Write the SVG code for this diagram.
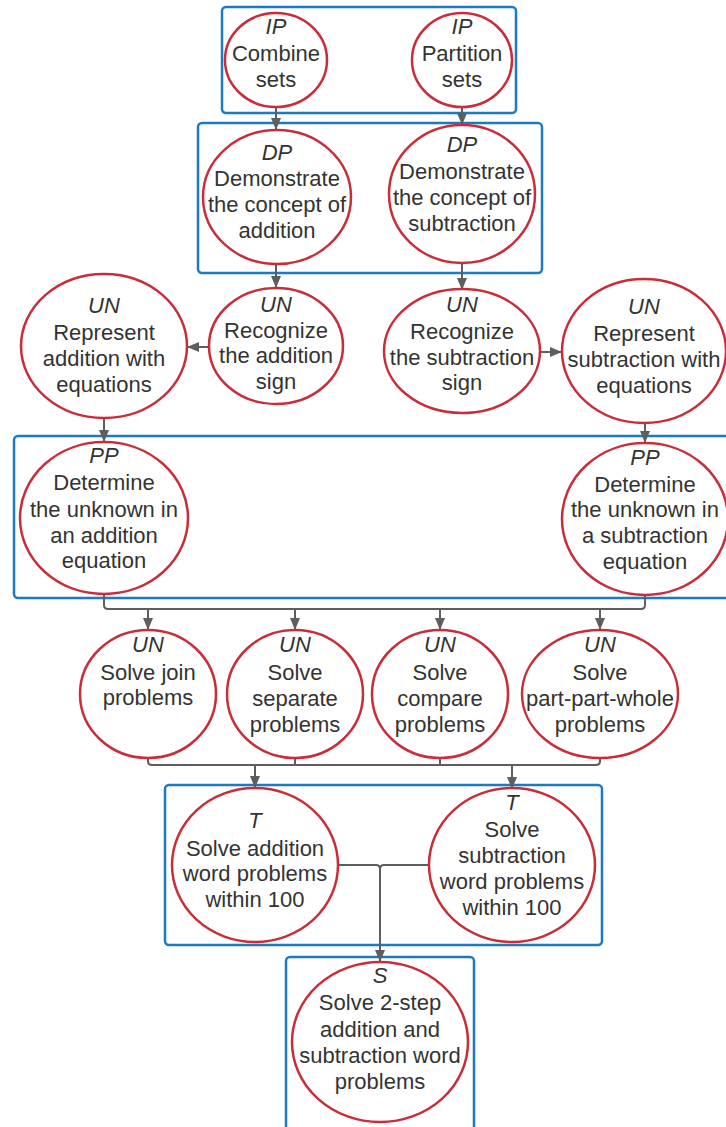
<svg xmlns="http://www.w3.org/2000/svg" width="726" height="1127" viewBox="0 0 726 1127">
<style>
.box{fill:none;stroke:#1b7ac2;stroke-width:2.5}
.node{fill:#ffffff;stroke:#c92d39;stroke-width:2.5}
.t{font-family:"Liberation Sans",Arial,sans-serif;font-size:22px;fill:#333333;text-anchor:middle}
.tag{font-style:italic}
.c{fill:none;stroke:#5e5e5e;stroke-width:2}
</style>
<defs>
<marker id="ah" markerUnits="userSpaceOnUse" markerWidth="12" markerHeight="12" viewBox="0 0 12 12" refX="12" refY="6" orient="auto">
<path d="M0,1 L12,6 L0,11 Z" fill="#5e5e5e"/>
</marker>
</defs>
<rect width="726" height="1127" fill="#ffffff"/>
<g id="containers">
<rect class="box" x="222" y="7" width="294" height="106" rx="4"/>
<rect class="box" x="198" y="123" width="344" height="150" rx="4"/>
<rect class="box" x="14" y="436" width="720" height="162" rx="4"/>
<rect class="box" x="165" y="785" width="437" height="160" rx="4"/>
<rect class="box" x="286" y="957" width="188" height="180" rx="4"/>
</g>
<g id="connectors">
<line class="c" x1="276" y1="107" x2="276" y2="130" marker-end="url(#ah)"/>
<line class="c" x1="462" y1="107" x2="462" y2="125" marker-end="url(#ah)"/>
<line class="c" x1="276" y1="264" x2="276" y2="288" marker-end="url(#ah)"/>
<line class="c" x1="462" y1="263" x2="462" y2="290" marker-end="url(#ah)"/>
<line class="c" x1="209" y1="347" x2="187" y2="347" marker-end="url(#ah)"/>
<line class="c" x1="541" y1="352" x2="562" y2="352" marker-end="url(#ah)"/>
<line class="c" x1="104" y1="418" x2="104" y2="442" marker-end="url(#ah)"/>
<line class="c" x1="645" y1="423" x2="645" y2="443" marker-end="url(#ah)"/>
<path class="c" d="M104,594 V605 Q104,609 108,609 H641 Q645,609 645,605 V595"/>
<line class="c" x1="148" y1="609" x2="148" y2="630" marker-end="url(#ah)"/>
<line class="c" x1="295" y1="609" x2="295" y2="630" marker-end="url(#ah)"/>
<line class="c" x1="440" y1="609" x2="440" y2="630" marker-end="url(#ah)"/>
<line class="c" x1="600" y1="609" x2="600" y2="630" marker-end="url(#ah)"/>
<path class="c" d="M148,758 V761 Q148,765 152,765 H596 Q600,765 600,761 V758"/>
<line class="c" x1="295" y1="758" x2="295" y2="765"/>
<line class="c" x1="440" y1="758" x2="440" y2="765"/>
<line class="c" x1="255" y1="765" x2="255" y2="788" marker-end="url(#ah)"/>
<line class="c" x1="512" y1="765" x2="512" y2="789" marker-end="url(#ah)"/>
<path class="c" d="M337,865 H376 Q380,865 380,869 V962" marker-end="url(#ah)"/>
<path class="c" d="M429,865 H384 Q380,865 380,869"/>
</g>
<g id="n-combine">
<ellipse class="node" cx="276" cy="60" rx="51" ry="47"/>
<text class="t"><tspan class="tag" x="276" y="34">IP</tspan><tspan x="276" y="61">Combine</tspan><tspan x="276" y="87">sets</tspan></text>
</g>
<g id="n-partition">
<ellipse class="node" cx="462" cy="60" rx="50" ry="47"/>
<text class="t"><tspan class="tag" x="462" y="34">IP</tspan><tspan x="462" y="61">Partition</tspan><tspan x="462" y="87">sets</tspan></text>
</g>
<g id="n-dp-add">
<ellipse class="node" cx="277" cy="197" rx="74" ry="67"/>
<text class="t"><tspan class="tag" x="277" y="160">DP</tspan><tspan x="277" y="186">Demonstrate</tspan><tspan x="277" y="212">the concept of</tspan><tspan x="277" y="238">addition</tspan></text>
</g>
<g id="n-dp-sub">
<ellipse class="node" cx="462" cy="194" rx="73" ry="69"/>
<text class="t"><tspan class="tag" x="462" y="152">DP</tspan><tspan x="462" y="179">Demonstrate</tspan><tspan x="462" y="205">the concept of</tspan><tspan x="462" y="231">subtraction</tspan></text>
</g>
<g id="n-rec-add">
<ellipse class="node" cx="276" cy="346" rx="67" ry="58"/>
<text class="t"><tspan class="tag" x="276" y="312">UN</tspan><tspan x="276" y="338">Recognize</tspan><tspan x="276" y="363">the addition</tspan><tspan x="276" y="389">sign</tspan></text>
</g>
<g id="n-rep-add">
<ellipse class="node" cx="104" cy="346" rx="83" ry="72"/>
<text class="t"><tspan class="tag" x="104" y="313">UN</tspan><tspan x="104" y="340">Represent</tspan><tspan x="104" y="366">addition with</tspan><tspan x="104" y="392">equations</tspan></text>
</g>
<g id="n-rec-sub">
<ellipse class="node" cx="462" cy="351" rx="78" ry="62"/>
<text class="t"><tspan class="tag" x="462" y="312">UN</tspan><tspan x="462" y="339">Recognize</tspan><tspan x="462" y="365">the subtraction</tspan><tspan x="462" y="390">sign</tspan></text>
</g>
<g id="n-rep-sub">
<ellipse class="node" cx="644" cy="351" rx="82" ry="72"/>
<text class="t"><tspan class="tag" x="644" y="314">UN</tspan><tspan x="644" y="341">Represent</tspan><tspan x="644" y="367">subtraction with</tspan><tspan x="644" y="393">equations</tspan></text>
</g>
<g id="n-pp-add">
<ellipse class="node" cx="104" cy="518" rx="84" ry="76"/>
<text class="t"><tspan class="tag" x="104" y="463">PP</tspan><tspan x="104" y="490">Determine</tspan><tspan x="104" y="517">the unknown in</tspan><tspan x="104" y="543">an addition</tspan><tspan x="104" y="568">equation</tspan></text>
</g>
<g id="n-pp-sub">
<ellipse class="node" cx="645" cy="519" rx="83" ry="76"/>
<text class="t"><tspan class="tag" x="645" y="465">PP</tspan><tspan x="645" y="492">Determine</tspan><tspan x="645" y="517">the unknown in</tspan><tspan x="645" y="543">a subtraction</tspan><tspan x="645" y="569">equation</tspan></text>
</g>
<g id="n-join">
<ellipse class="node" cx="148" cy="694" rx="68" ry="64"/>
<text class="t"><tspan class="tag" x="148" y="652">UN</tspan><tspan x="148" y="680">Solve join</tspan><tspan x="148" y="705">problems</tspan></text>
</g>
<g id="n-separate">
<ellipse class="node" cx="295" cy="694" rx="68" ry="64"/>
<text class="t"><tspan class="tag" x="295" y="652">UN</tspan><tspan x="295" y="680">Solve</tspan><tspan x="295" y="706">separate</tspan><tspan x="295" y="732">problems</tspan></text>
</g>
<g id="n-compare">
<ellipse class="node" cx="440" cy="694" rx="68" ry="64"/>
<text class="t"><tspan class="tag" x="440" y="652">UN</tspan><tspan x="440" y="680">Solve</tspan><tspan x="440" y="706">compare</tspan><tspan x="440" y="732">problems</tspan></text>
</g>
<g id="n-ppw">
<ellipse class="node" cx="600" cy="694" rx="78" ry="64"/>
<text class="t"><tspan class="tag" x="600" y="652">UN</tspan><tspan x="600" y="680">Solve</tspan><tspan x="600" y="706">part-part-whole</tspan><tspan x="600" y="732">problems</tspan></text>
</g>
<g id="n-t-add">
<ellipse class="node" cx="255" cy="865" rx="83" ry="77"/>
<text class="t"><tspan class="tag" x="255" y="828">T</tspan><tspan x="255" y="856">Solve addition</tspan><tspan x="255" y="881">word problems</tspan><tspan x="255" y="907">within 100</tspan></text>
</g>
<g id="n-t-sub">
<ellipse class="node" cx="512" cy="865" rx="83" ry="77"/>
<text class="t"><tspan class="tag" x="512" y="810">T</tspan><tspan x="512" y="837">Solve</tspan><tspan x="512" y="863">subtraction</tspan><tspan x="512" y="889">word problems</tspan><tspan x="512" y="915">within 100</tspan></text>
</g>
<g id="n-s">
<ellipse class="node" cx="380" cy="1042" rx="88" ry="80"/>
<text class="t"><tspan class="tag" x="380" y="983">S</tspan><tspan x="380" y="1010">Solve 2-step</tspan><tspan x="380" y="1037">addition and</tspan><tspan x="380" y="1063">subtraction word</tspan><tspan x="380" y="1089">problems</tspan></text>
</g>
</svg>
